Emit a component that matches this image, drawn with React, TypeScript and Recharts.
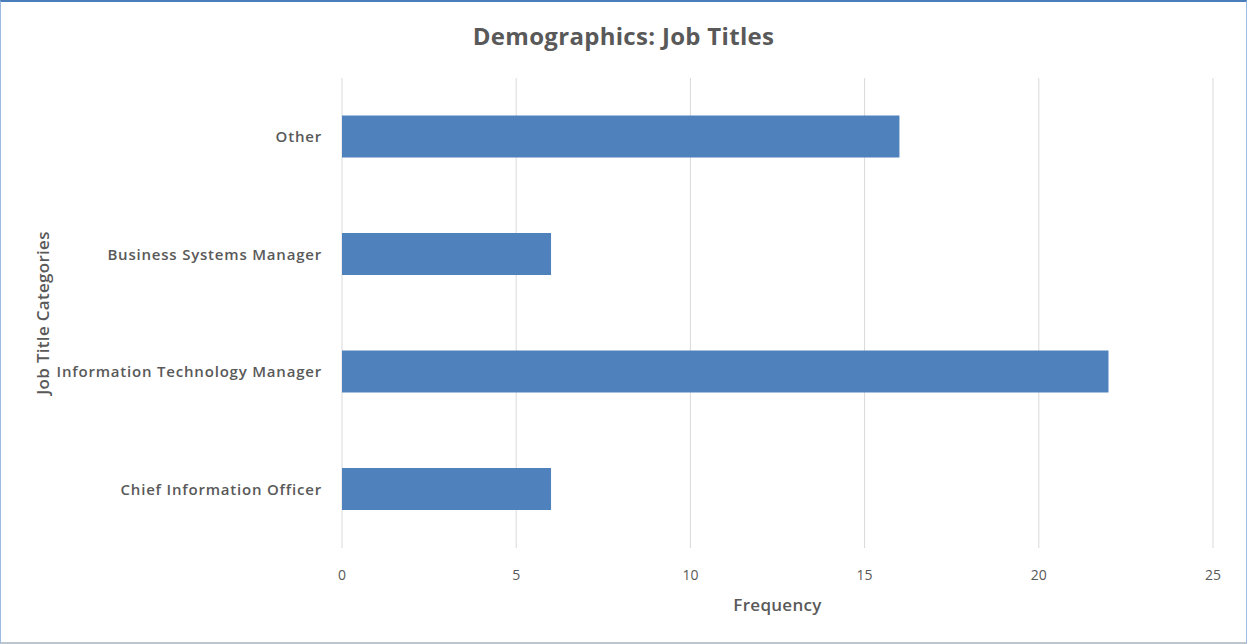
import React from "react";
import { BarChart, Bar, XAxis, YAxis, CartesianGrid, Label } from "recharts";

const categories = [
  "Other",
  "Business Systems Manager",
  "Information Technology Manager",
  "Chief Information Officer",
];
const frequency = [16, 6, 22, 6];
const xTicks = [0, 5, 10, 15, 20, 25];

const data = categories.map((name, i) => ({ name, value: frequency[i] }));

const FONT = "'Open Sans', 'Liberation Sans', sans-serif";
const TEXT = "#595959";

export default function App() {
  return (
    <div
      style={{
        position: "fixed",
        left: 0,
        top: 0,
        width: 1247,
        height: 644,
        boxSizing: "border-box",
        background: "#fff",
        borderTop: "2px solid #4a7ebb",
        borderLeft: "1px solid #9dbbe0",
        borderRight: "1px solid #9dbbe0",
        borderBottom: "2px solid #bcc6d0",
        fontFamily: FONT,
      }}
    >
      <div
        style={{
          position: "absolute",
          top: 17,
          left: 0,
          width: "100%",
          textAlign: "center",
          fontSize: 24,
          fontWeight: 700,
          color: TEXT,
          letterSpacing: 0.3,
        }}
      >
        Demographics: Job Titles
      </div>
      <div style={{ position: "absolute", left: -1, top: -2 }}>
        <BarChart
          width={1247}
          height={644}
          data={data}
          layout="vertical"
          margin={{ top: 78, right: 34, bottom: 0, left: 0 }}
          barCategoryGap="32%"
        >
          <CartesianGrid horizontal={false} stroke="#d9d9d9" />
          <XAxis
            type="number"
            domain={[0, 25]}
            ticks={xTicks}
            axisLine={false}
            tickLine={false}
            tickMargin={16}
            height={96}
            tick={{ fill: TEXT, fontSize: 14, fontFamily: FONT }}
          >
            <Label
              value="Frequency"
              position="insideBottom"
              offset={33}
              style={{ fill: TEXT, fontSize: 17, fontWeight: 600, fontFamily: FONT, letterSpacing: 0.3 }}
            />
          </XAxis>
          <YAxis
            type="category"
            dataKey="name"
            width={342}
            axisLine={false}
            tickLine={false}
            tickMargin={14}
            tick={{ fill: TEXT, fontSize: 15, fontWeight: 600, fontFamily: FONT, letterSpacing: 0.8 }}
          >
            <Label
              value="Job Title Categories"
              angle={-90}
              position="insideLeft"
              offset={43}
              style={{ textAnchor: "middle", fill: TEXT, fontSize: 17, fontWeight: 600, fontFamily: FONT, letterSpacing: 0.3 }}
            />
          </YAxis>
          <Bar dataKey="value" fill="#4f81bd" isAnimationActive={false} />
        </BarChart>
      </div>
    </div>
  );
}
